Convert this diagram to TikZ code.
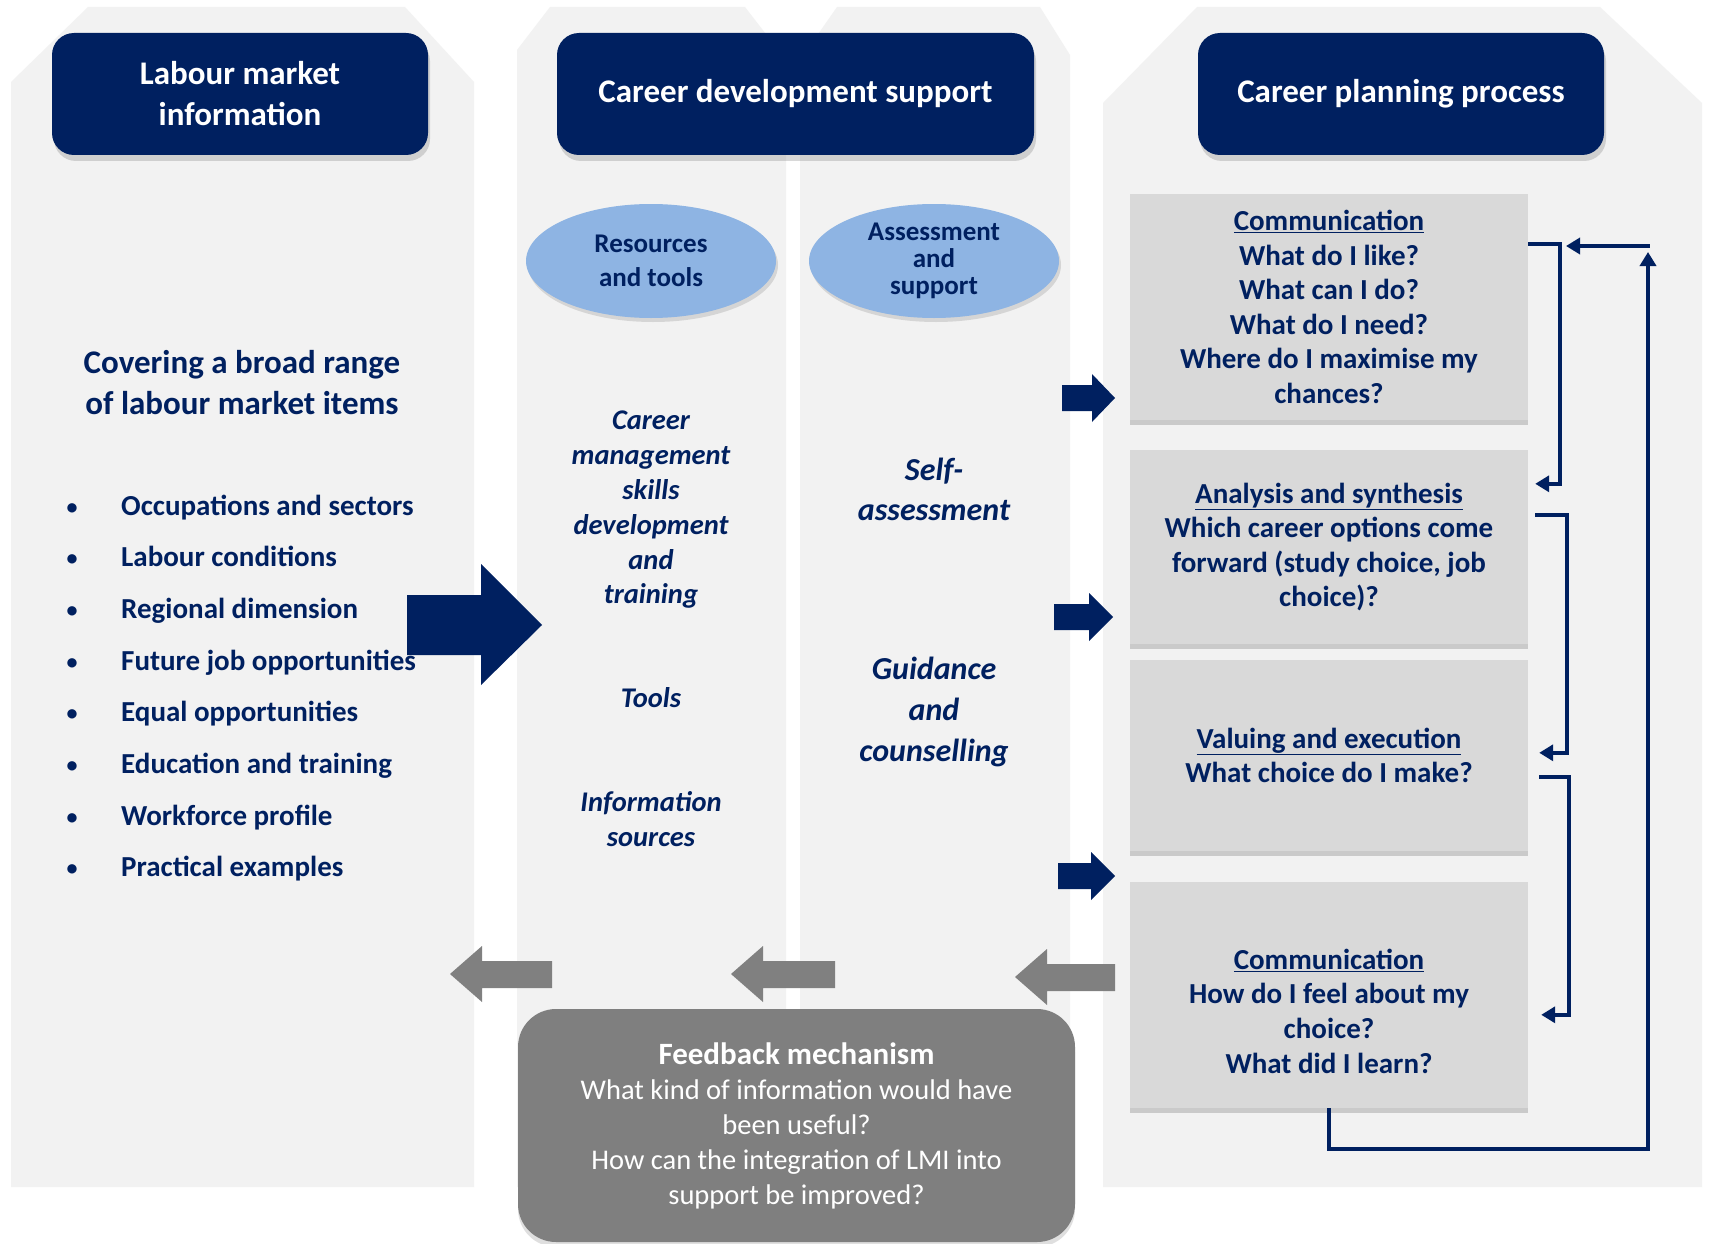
\documentclass[tikz,border=0pt]{standalone}
\usepackage{fontspec}
\setmainfont{Carlito}
\usetikzlibrary{calc,shadows,arrows.meta,shapes.geometric}
\definecolor{navy}{RGB}{0,32,96}
\definecolor{colbg}{RGB}{242,242,242}
\definecolor{boxgray}{RGB}{217,217,217}
\definecolor{ellblue}{RGB}{142,180,227}
\definecolor{arrgray}{RGB}{128,128,128}
\definecolor{fbgray}{RGB}{127,127,127}
\begin{document}
\begin{tikzpicture}[x=1pt,y=-1pt,
  colshape/.style={fill=colbg},
  hdr/.style={fill=navy, rounded corners=22pt, text=white, align=center, inner sep=0pt,
    font=\bfseries\fontsize{33}{41}\selectfont,
    drop shadow={shadow xshift=2pt,shadow yshift=-6pt,opacity=0.3}},
  ellnode/.style={ellipse, fill=ellblue, text=navy, align=center, inner sep=0pt,
    minimum width=250pt, minimum height=114pt,
    drop shadow={shadow xshift=2pt,shadow yshift=-4pt,opacity=0.25}},
  procbox/.style={fill=boxgray, text=navy, align=center, inner sep=0pt, minimum width=398pt,
    font=\bfseries\fontsize{29}{34.6}\selectfont,
    drop shadow={shadow xshift=0pt,shadow yshift=-5pt,opacity=0.35}},
  navytext/.style={text=navy, align=center, inner sep=0pt},
  conn/.style={draw=navy, line width=3.5pt, -{Triangle[length=14pt,width=16pt]}},
  blockarrow/.style={fill=navy},
  grayarrow/.style={fill=arrgray},
  fbbox/.style={fill=fbgray, rounded corners=38pt, text=white, align=center, inner sep=0pt,
    minimum width=557pt, minimum height=233pt,
    drop shadow={shadow xshift=0pt,shadow yshift=-5pt,opacity=0.25}},
]
\useasboundingbox (0,0) rectangle (1711,1244);
\fill[white] (0,0) rectangle (1711,1244);

% column backgrounds
\fill[colshape] (11,82) -- (88,7) -- (405,7) -- (474,82) -- (474,1187) -- (11,1187) -- cycle;
\fill[colshape] (517,50) -- (550,7) -- (745,7) -- (786,60) -- (786,1187) -- (517,1187) -- cycle;
\fill[colshape] (800,60) -- (837,7) -- (1040,7) -- (1070,55) -- (1070,1187) -- (800,1187) -- cycle;
\fill[colshape] (1103,103) -- (1197,7) -- (1600,7) -- (1702,103) -- (1702,1187) -- (1103,1187) -- cycle;

% headers
\node[hdr, minimum width=376pt, minimum height=122pt] (lmi) at (240,94) {Labour market\\information};
\node[hdr, minimum width=477pt, minimum height=122pt] (cds) at (795.5,94) {Career development support};
\node[hdr, minimum width=406pt, minimum height=122pt] (cpp) at (1401,94) {Career planning process};

% ellipses
\node[ellnode, font=\bfseries\fontsize{27}{34}\selectfont] (res) at (651,261) {Resources\\and tools};
\node[ellnode, font=\bfseries\fontsize{27}{27}\selectfont] (ass) at (934,261) {Assessment\\and\\support};

% left column text
\node[navytext, font=\bfseries\fontsize{33}{41}\selectfont] (cover) at (242,383) {Covering a broad range\\of labour market items};

% big arrow
\fill[blockarrow] (407,595) -- (481,595) -- (481,564) -- (542,625) -- (481,685) -- (481,655) -- (407,655) -- cycle;

\foreach \t [count=\i] in {Occupations and sectors, Labour conditions, Regional dimension, Future job opportunities, Equal opportunities, Education and training, Workforce profile, Practical examples}{
  \node[navytext, anchor=base, font=\bfseries\fontsize{22}{26}\selectfont] (d\i) at (72,{505+(\i-1)*51.7+9}) {\textbullet};
  \node[navytext, anchor=base west, font=\bfseries\fontsize{29}{34}\selectfont] (i\i) at (121,{505+(\i-1)*51.7+10}) {\t};
}

% middle column texts
\node[navytext, font=\bfseries\itshape\fontsize{28.5}{34.8}\selectfont] (cms) at (651,510) {Career\\management\\skills\\development\\and\\training};
\node[navytext, font=\bfseries\itshape\fontsize{28.5}{34.8}\selectfont] (tools) at (651,698) {Tools};
\node[navytext, font=\bfseries\itshape\fontsize{28.5}{34.8}\selectfont] (info) at (651,819) {Information\\sources};
\node[navytext, font=\bfseries\itshape\fontsize{32}{40}\selectfont] (self) at (934,489) {Self-\\assessment};
\node[navytext, font=\bfseries\itshape\fontsize{32}{40.6}\selectfont] (guid) at (934,712) {Guidance\\and\\counselling};

% small navy arrows
\fill[blockarrow] (1062,385) -- (1092,385) -- (1092,374) -- (1115,398) -- (1092,422) -- (1092,411) -- (1062,411) -- cycle;
\fill[blockarrow] (1054,604) -- (1089,604) -- (1089,593) -- (1113,617) -- (1089,641) -- (1089,630) -- (1054,630) -- cycle;
\fill[blockarrow] (1058,863) -- (1091,863) -- (1091,852) -- (1115,876) -- (1091,900) -- (1091,889) -- (1058,889) -- cycle;

% process boxes
\node[procbox, minimum height=226pt] (p1) at (1329,307) {\underline{Communication}\\What do I like?\\What can I do?\\What do I need?\\Where do I maximise my\\chances?};
\node[procbox, minimum height=194pt] (p2) at (1329,547) {\underline{Analysis and synthesis}\\Which career options come\\forward (study choice, job\\choice)?};
\node[procbox, minimum height=191pt] (p3) at (1329,755.5) {\underline{Valuing and execution}\\What choice do I make?};
\node[procbox, minimum height=226pt] (p4) at (1329,995) {\mbox{}\\[18pt]\underline{Communication}\\How do I feel about my\\choice?\\What did I learn?};

% connectors
\draw[conn] ($(p1.north east)+(0,50)$) -- ++(32,0) |- ($(p2.north east)+(7,34)$);
\draw[conn] ($(p2.north east)+(7,65)$) -- ++(32,0) |- ($(p3.north east)+(11,93)$);
\draw[conn] ($(p3.north east)+(11,117)$) -- ++(30,0) |- ($(p4.north east)+(13,133)$);
\coordinate (looptop) at (1648,252);
\coordinate (loopcorner) at (1649.75,246);
\coordinate (loopin) at (1566,246);
\draw[conn] (p4.south) -- ++(0,41) -| (looptop);
\draw[conn] (loopcorner) -- (loopin);

% gray feedback arrows
\fill[grayarrow] (450,974) -- (482,946) -- (482,961) -- (552,961) -- (552,988) -- (482,988) -- (482,1002) -- cycle;
\fill[grayarrow] (731,974) -- (763,946) -- (763,961) -- (835,961) -- (835,988) -- (763,988) -- (763,1002) -- cycle;
\fill[grayarrow] (1015,977) -- (1047,949) -- (1047,964) -- (1115,964) -- (1115,991) -- (1047,991) -- (1047,1005) -- cycle;

% feedback box
\node[fbbox, font=\fontsize{28.5}{35}\selectfont] (fb) at (796.5,1125.5) {{\bfseries\fontsize{31}{35}\selectfont Feedback mechanism}\\What kind of information would have\\been useful?\\How can the integration of LMI into\\support be improved?};
\end{tikzpicture}
\end{document}
